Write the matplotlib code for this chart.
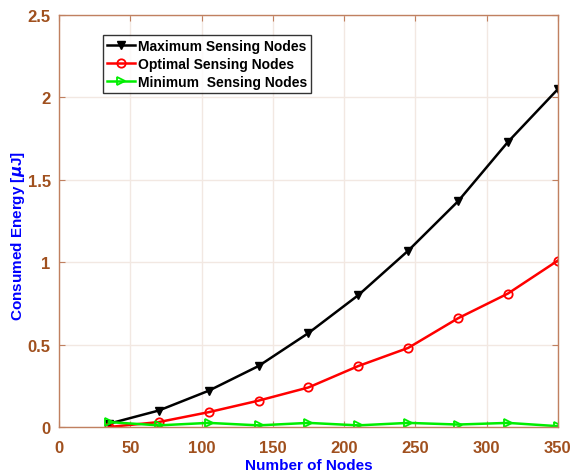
import matplotlib
matplotlib.use("Agg")
import matplotlib.pyplot as plt

nodes = [35, 70, 105, 140, 175, 210, 245, 280, 315, 350]
max_sensing = [0.02, 0.10, 0.22, 0.37, 0.57, 0.80, 1.07, 1.37, 1.73, 2.05]
opt_sensing = [0.00, 0.03, 0.09, 0.16, 0.24, 0.37, 0.48, 0.66, 0.81, 1.01]
min_sensing = [0.03, 0.01, 0.025, 0.01, 0.025, 0.01, 0.025, 0.015, 0.025, 0.005]

xticks = [0, 50, 100, 150, 200, 250, 300, 350]
yticks = [0, 0.5, 1, 1.5, 2, 2.5]

plt.rcParams['font.family'] = ['Liberation Sans', 'DejaVu Sans']
plt.rcParams['font.weight'] = 'bold'

tick_col = '#A0501E'
spine_col = '#C08060'

fig = plt.figure(figsize=(5.71, 4.77), dpi=100)
ax = fig.add_axes([0.1033, 0.1027, 0.8737, 0.8638])

ax.plot(nodes, max_sensing, color='black', lw=1.8, marker='v', ms=6,
        mfc='black', mec='black', label='Maximum Sensing Nodes')
ax.plot(nodes, opt_sensing, color='red', lw=1.8, marker='o', ms=6,
        mfc='none', mec='red', mew=1.3, label='Optimal Sensing Nodes')
ax.plot(nodes, min_sensing, color='#00EE00', lw=1.8, marker='>', ms=6,
        mfc='none', mec='#00EE00', mew=1.3, label='Minimum  Sensing Nodes')

ax.set_xlim(0, 350)
ax.set_ylim(0, 2.5)
ax.set_xticks(xticks)
ax.set_yticks(yticks)
ax.set_xticklabels([str(v) for v in xticks])
ax.set_yticklabels(['0', '0.5', '1', '1.5', '2', '2.5'])
ax.grid(True, color='#F2E8E2', lw=1.0)
ax.set_axisbelow(True)

for s in ax.spines.values():
    s.set_color(spine_col)
    s.set_linewidth(1.0)
ax.tick_params(direction='in', colors=spine_col, labelcolor=tick_col,
               labelsize=12, length=4, top=True, right=True)
ax.tick_params(axis='x', pad=9)
ax.tick_params(axis='y', pad=6)
for lbl in ax.get_xticklabels() + ax.get_yticklabels():
    lbl.set_fontweight('bold')

ax.set_xlabel('Number of Nodes', color='blue', fontsize=11, fontweight='bold', va='center')
ax.set_ylabel(r'Consumed Energy [$\mu$J]', color='blue', fontsize=11, fontweight='bold', va='center')
ax.xaxis.set_label_coords(0.5, -0.092)
ax.yaxis.set_label_coords(-0.082, 0.466)

leg = ax.legend(loc='upper left', bbox_to_anchor=(0.088, 0.952), fontsize=10,
                frameon=True, fancybox=False, edgecolor='black',
                handlelength=2.0, handletextpad=0.2, borderpad=0.3,
                labelspacing=0.3, borderaxespad=0)
leg.get_frame().set_linewidth(1.0)
for t in leg.get_texts():
    t.set_fontweight('bold')

fig.savefig('out.png', dpi=100)
